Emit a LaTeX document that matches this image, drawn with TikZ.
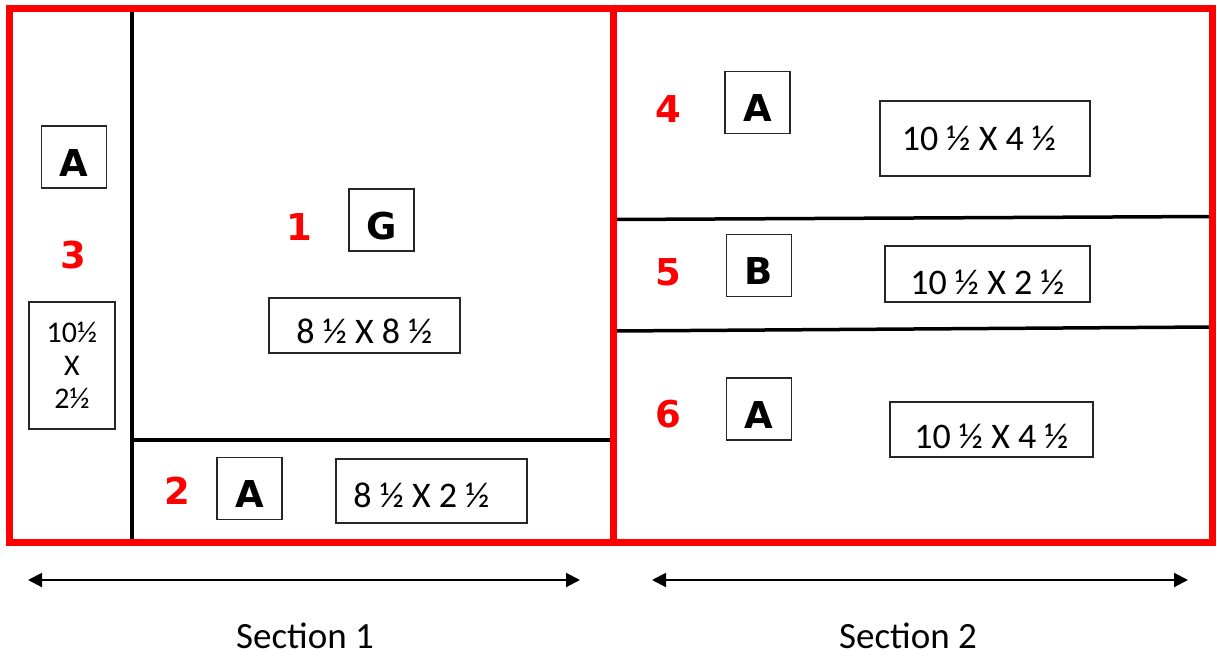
\documentclass[tikz,border=0pt]{standalone}
\usepackage{fontspec}
\setmainfont{Carlito}
\newfontfamily\boldfam{DejaVu Sans}
\usetikzlibrary{arrows.meta}
\definecolor{pred}{RGB}{255,0,0}
\newcommand{\lowerby}[2]{\raisebox{-#1}[\height][0pt]{#2}}
\tikzset{
  redframe/.style={draw=pred, line width=7pt},
  divider/.style={draw=black, line width=3.5pt},
  letterbox/.style={draw=black!85, line width=1.2pt, minimum width=65pt, minimum height=62pt, inner sep=0pt, font=\boldfam\bfseries\fontsize{37}{37}\selectfont},
  sizebox/.style={draw=black!85, line width=1.2pt, inner sep=0pt, font=\fontsize{36}{36}\selectfont},
  numlabel/.style={text=pred, inner sep=0pt, font=\boldfam\bfseries\fontsize{37}{37}\selectfont},
  dimarrow/.style={draw=black, line width=2pt, {Triangle[length=14pt,width=14pt]}-{Triangle[length=14pt,width=14pt]}},
  seclabel/.style={inner sep=0pt, font=\fontsize{37}{37}\selectfont}
}
\begin{document}
\begin{tikzpicture}[x=1pt,y=-1pt]
\useasboundingbox (0,0) rectangle (1217,656);
\fill[white] (0,0) rectangle (1217,656);
% dividers
\coordinate (v1t) at (132,10);
\coordinate (v1b) at (132,541);
\coordinate (h1l) at (132,440);
\coordinate (h1r) at (612,440);
\coordinate (h2l) at (615,219.5);
\coordinate (h2r) at (1211,216.5);
\coordinate (h3l) at (615,331);
\coordinate (h3r) at (1211,327);
\draw[divider] (v1t) -- (v1b);
\draw[divider] (h1l) -- (h1r);
\draw[divider] (h2l) -- (h2r);
\draw[divider] (h3l) -- (h3r);
% red frames
\draw[redframe] (9.5,8) rectangle (613.5,542);
\draw[redframe] (613.5,8) rectangle (1212,542);
% region 3
\node[letterbox] (a3) at (74,157) {\lowerby{6pt}{A}};
\node[numlabel] (n3) at (73,255) {3};
\node[sizebox, minimum width=86pt, minimum height=127pt, align=center, font=\fontsize{30}{33}\selectfont] (s3) at (72,365.5) {10½\\X\\2½};
% region 1
\node[numlabel] (n1) at (299,227) {1};
\node[letterbox] (g1) at (381.5,220) {\lowerby{6pt}{G}};
\node[sizebox, minimum width=191pt, minimum height=55pt] (s1) at (364.5,325.5) {\lowerby{6pt}{8 ½ X 8 ½}};
% region 2
\node[numlabel] (n2) at (177,491) {2};
\node[letterbox] (a2) at (249.5,488.5) {\lowerby{6pt}{A}};
\node[sizebox, minimum width=191pt, minimum height=64pt] (s2) at (431.5,491) {\hspace*{-20pt}\lowerby{4pt}{8 ½ X 2 ½}};
% region 4
\node[numlabel] (n4) at (668,109) {4};
\node[letterbox] (a4) at (757.5,102.5) {\lowerby{6pt}{A}};
\node[sizebox, minimum width=210pt, minimum height=75pt] (s4) at (985,138.5) {\hspace*{-12pt}10 ½ X 4 ½};
% region 5
\node[numlabel] (n5) at (668,272) {5};
\node[letterbox] (b5) at (759,265.5) {\lowerby{6pt}{B}};
\node[sizebox, minimum width=205pt, minimum height=56pt] (s5) at (987.5,274) {\lowerby{8pt}{10 ½ X 2 ½}};
% region 6
\node[numlabel] (n6) at (668,414) {6};
\node[letterbox] (a6) at (759,409) {\lowerby{6pt}{A}};
\node[sizebox, minimum width=203pt, minimum height=55pt] (s6) at (991.5,429.5) {\lowerby{7pt}{10 ½ X 4 ½}};
% section arrows
\coordinate (a1l) at (28,580);
\coordinate (a1r) at (580,580);
\coordinate (a2l) at (652,580);
\coordinate (a2r) at (1188,580);
\draw[dimarrow] (a1l) -- (a1r);
\draw[dimarrow] (a2l) -- (a2r);
\node[seclabel] (sec1) at (305,636) {Section 1};
\node[seclabel] (sec2) at (908,636) {Section 2};
\end{tikzpicture}
\end{document}
